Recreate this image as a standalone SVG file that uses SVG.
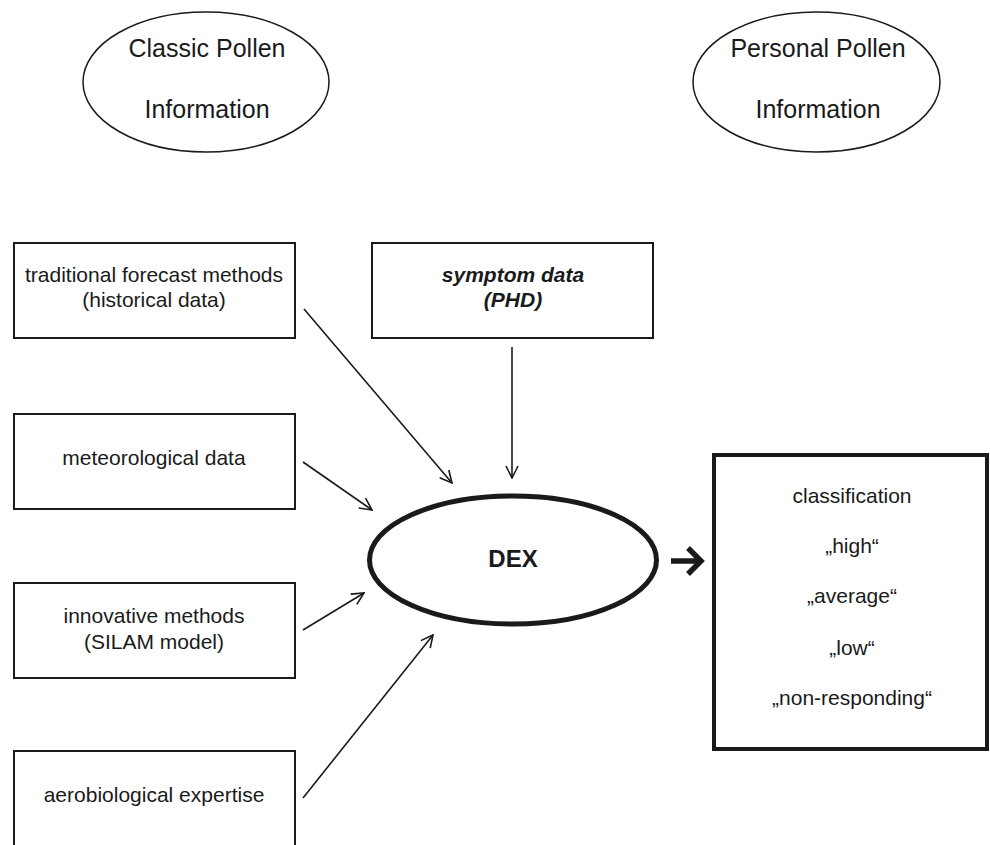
<svg xmlns="http://www.w3.org/2000/svg" width="990" height="845" viewBox="0 0 990 845">
<defs>
<style>
text{font-family:"Liberation Sans",Arial,sans-serif;fill:#1a1a1a;text-anchor:middle}
.t25{font-size:25px}
.t21{font-size:21px}
.box{fill:#fff;stroke:#1a1a1a;stroke-width:2}
.ell{fill:#fff;stroke:#1a1a1a;stroke-width:1.5}
.con{stroke:#1a1a1a;stroke-width:1.6;fill:none}
</style>
<marker id="ah" viewBox="0 0 14 14" refX="13" refY="7" markerWidth="14" markerHeight="14" markerUnits="userSpaceOnUse" orient="auto">
<path d="M1,1 L13,7 L1,13" fill="none" stroke="#1a1a1a" stroke-width="1.6"/>
</marker>
</defs>
<rect width="990" height="845" fill="#fff"/>
<g id="classic">
<ellipse class="ell" cx="206" cy="82" rx="123" ry="70"/>
<text class="t25" x="207" y="57">Classic Pollen</text>
<text class="t25" x="207" y="118">Information</text>
</g>
<g id="personal">
<ellipse class="ell" cx="816.5" cy="82" rx="123.5" ry="70"/>
<text class="t25" x="818" y="57">Personal Pollen</text>
<text class="t25" x="818" y="118">Information</text>
</g>
<g id="traditional">
<rect class="box" x="14" y="243" width="281" height="95"/>
<text class="t21" x="154" y="282">traditional forecast methods</text>
<text class="t21" x="154" y="307">(historical data)</text>
</g>
<g id="meteorological">
<rect class="box" x="14" y="414" width="281" height="95"/>
<text class="t21" x="154" y="465">meteorological data</text>
</g>
<g id="innovative">
<rect class="box" x="14" y="583" width="281" height="95"/>
<text class="t21" x="154" y="623">innovative methods</text>
<text class="t21" x="154" y="649">(SILAM model)</text>
</g>
<g id="aerobiological">
<rect class="box" x="14" y="751" width="281" height="110"/>
<text class="t21" x="154" y="802">aerobiological expertise</text>
</g>
<g id="symptom">
<rect class="box" x="372" y="243" width="281" height="95"/>
<text class="t21" x="513" y="282" font-weight="bold" font-style="italic">symptom data</text>
<text class="t21" x="513" y="307" font-weight="bold" font-style="italic">(PHD)</text>
</g>
<g id="dex">
<ellipse cx="513" cy="560" rx="143.5" ry="64" fill="#fff" stroke="#1a1a1a" stroke-width="5"/>
<text x="513" y="567" font-size="24" font-weight="bold">DEX</text>
</g>
<g id="classification">
<rect x="714" y="455" width="273" height="294" fill="#fff" stroke="#1a1a1a" stroke-width="4"/>
<text class="t21" x="852" y="503">classification</text>
<text class="t21" x="852" y="553">„high“</text>
<text class="t21" x="852" y="603">„average“</text>
<text class="t21" x="852" y="655">„low“</text>
<text class="t21" x="852" y="705">„non-responding“</text>
</g>
<g id="connectors">
<line class="con" x1="304" y1="309" x2="452" y2="483" marker-end="url(#ah)"/>
<line class="con" x1="303" y1="462" x2="372" y2="510" marker-end="url(#ah)"/>
<line class="con" x1="303" y1="630" x2="364" y2="593" marker-end="url(#ah)"/>
<line class="con" x1="303" y1="798" x2="433" y2="635" marker-end="url(#ah)"/>
<line class="con" x1="512" y1="347" x2="512" y2="478" marker-end="url(#ah)"/>
<g id="bold-arrow" stroke="#1a1a1a" stroke-width="5.5" fill="none">
<line x1="671" y1="561" x2="700" y2="561"/>
<path d="M688,548 L701,561 L688,574" stroke-linejoin="miter"/>
</g>
</g>
</svg>
